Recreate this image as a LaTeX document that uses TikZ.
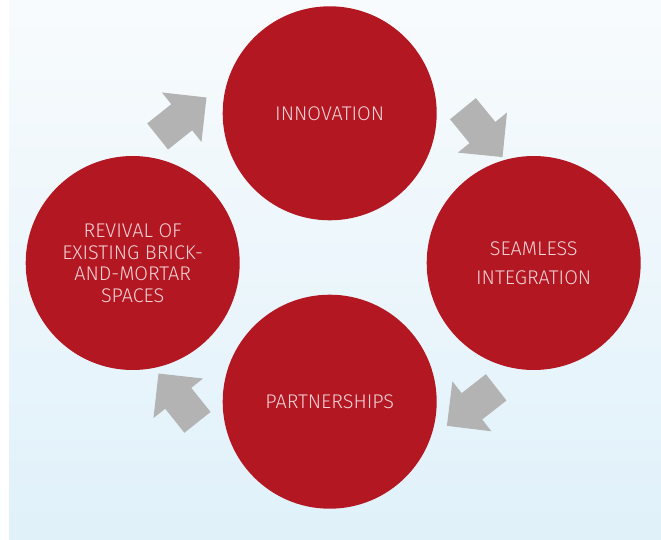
\documentclass[tikz,border=0pt]{standalone}
\usepackage{fontspec}
\setmainfont{Fira Sans}[UprightFont=* Light]
\usetikzlibrary{shapes.arrows}
\definecolor{Berry}{HTML}{B31722}
\definecolor{Blush}{HTML}{F3D2D7}
\definecolor{Steel}{HTML}{B3B3B3}
\definecolor{SkyTop}{HTML}{F8FBFD}
\definecolor{SkyBottom}{HTML}{E0F1FA}
\tikzset{stage/.style={circle,fill=Berry,minimum size=214pt,inner sep=0pt,
    align=center,text=Blush,font=\fontsize{19.8}{21.5}\selectfont},
  turn/.style={single arrow,fill=Steel,minimum height=62.5pt,
    inner xsep=0pt,inner ysep=16.5pt,
    single arrow head extend=15pt,single arrow tip angle=90,
    anchor=tip,rotate=#1}}

\begin{document}
\begin{tikzpicture}[x=1pt,y=-1pt]
  \useasboundingbox (0,0) rectangle (661,540);
  \shade[top color=SkyTop,bottom color=SkyBottom] (9,0) rectangle (661,540);
  \node[stage] (innov) at (329.7,113.3) {INNOVATION};
  \node[stage] (seamless) at (533.7,263) {SEAMLESS\\[8pt]INTEGRATION};
  \node[stage] (partner) at (329.7,401.7) {PARTNERSHIPS};
  \node[stage] (revival) at (132.7,263) {REVIVAL OF\\EXISTING BRICK-\\AND-MORTAR\\SPACES};
  \node[turn=38.6] (toinnov) at (206.7,97.3) {};
  \node[turn=-50.7] (toseam) at (502.7,157.3) {};
  \node[turn=-142] (topart) at (446.7,426) {};
  \node[turn=128.6] (torev) at (158.3,373.3) {};
\end{tikzpicture}
\end{document}
